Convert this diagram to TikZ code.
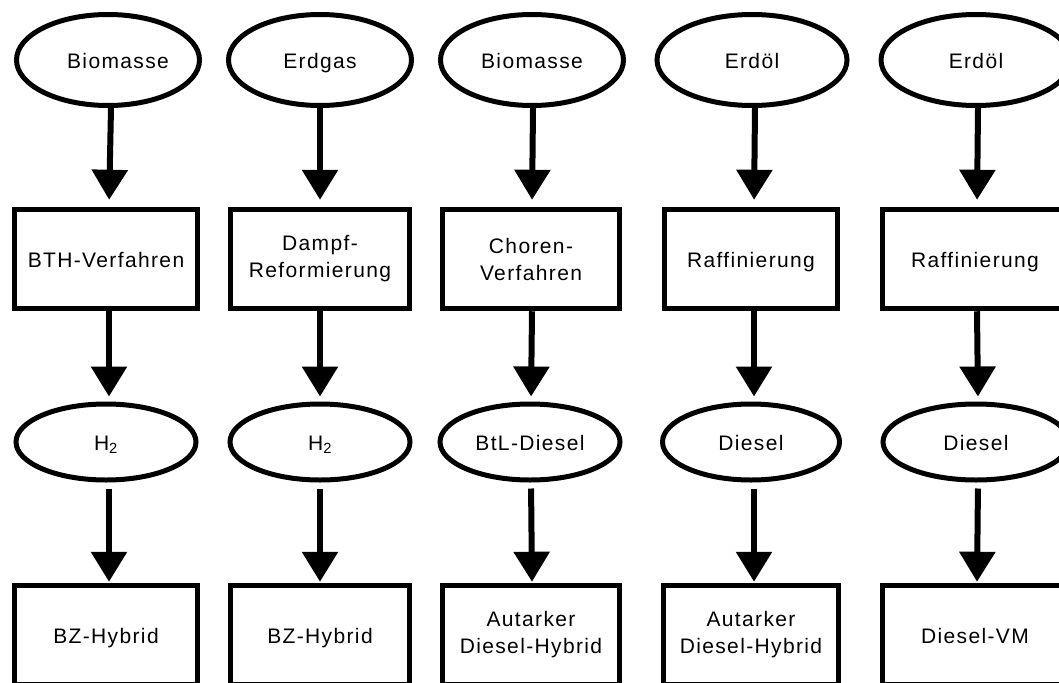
\documentclass[tikz,border=0pt]{standalone}
\usepackage{fontspec}
\setmainfont{Liberation Sans}[LetterSpace=6.5]
\usetikzlibrary{shapes.geometric,arrows.meta}
\begin{document}
\begin{tikzpicture}[x=1pt,y=-1pt,
  every node/.style={font=\fontsize{21}{27}\selectfont, inner sep=0pt},
  one/.style={text height=17pt, text depth=0pt},
  src/.style={draw, ellipse, one, line width=5pt, minimum width=183pt, minimum height=91pt},
  fuel/.style={draw, ellipse, one, line width=5pt, minimum width=180pt, minimum height=76pt},
  proc/.style={draw, rectangle, line width=5.5pt, minimum width=179pt, minimum height=99pt, align=center},
  arr/.style={line width=6pt, -{Triangle[width=35pt,length=30pt]}},
]
\useasboundingbox (0,0) rectangle (1059,682);
\clip (0,0) rectangle (1059,682);
% row 1
\node[src] (a1) at (108,60) {\hspace*{20pt}Biomasse};
\node[src] (a2) at (320,60) {Erdgas};
\node[src] (a3) at (532,60) {Biomasse};
\node[src, minimum width=190pt] (a4) at (752,60) {Erdöl};
\node[src, minimum width=190pt] (a5) at (976,60) {Erdöl};
% row 2
\node[proc, one, minimum width=183pt] (b1) at (106,259) {BTH-Verfahren};
\node[proc] (b2) at (320,259) {Dampf-\\Reformierung};
\node[proc, minimum width=177pt] (b3) at (531,259) {Choren-\\Verfahren};
\node[proc, one, minimum width=173pt] (b4) at (751,259) {Raffinierung};
\node[proc, one, minimum width=185pt] (b5) at (975,259) {Raffinierung};
% row 3
\node[fuel] (c1) at (106,442) {H\textsubscript{2}};
\node[fuel] (c2) at (320,442) {H\textsubscript{2}};
\node[fuel] (c3) at (530,442) {BtL-Diesel};
\node[fuel, minimum width=177pt] (c4) at (751,442) {Diesel};
\node[fuel, minimum width=186pt] (c5) at (976,442) {Diesel};
% row 4
\node[proc, one, minimum width=183pt] (d1) at (106,635) {BZ-Hybrid};
\node[proc, one] (d2) at (320,635) {BZ-Hybrid};
\node[proc, minimum width=177pt] (d3) at (531,635) {Autarker\\Diesel-Hybrid};
\node[proc, minimum width=175pt] (d4) at (751,635) {Autarker\\Diesel-Hybrid};
\node[proc, one, minimum width=185pt] (d5) at (975,635) {Diesel-VM};
% arrows
\foreach \i/\dx in {1/3,2/0,3/1,4/3,5/2}{
  \draw[arr, shorten >=7pt] ([xshift=\dx pt]a\i.south) -- ([xshift=\dx pt]b\i.north);
  \draw[arr, shorten >=5pt] ([xshift=\dx pt]b\i.south) -- ([xshift=\dx pt]c\i.north);
  \draw[arr, shorten <=6pt, shorten >=1pt] ([xshift=\dx pt]c\i.south) -- ([xshift=\dx pt]d\i.north);
}
\end{tikzpicture}
\end{document}
